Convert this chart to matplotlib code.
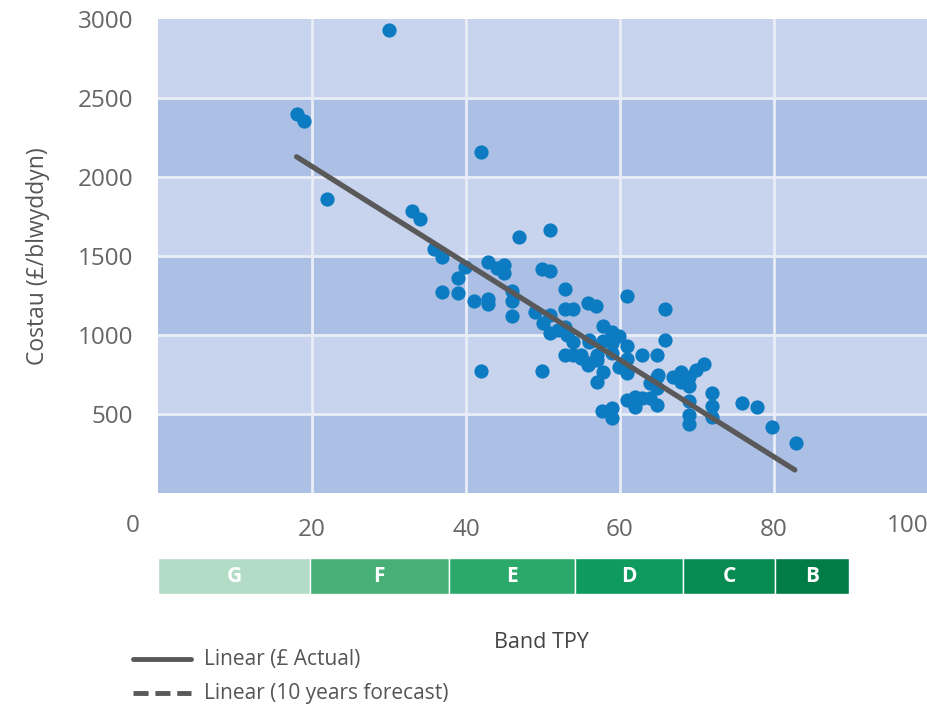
import numpy as np
import matplotlib.pyplot as plt
from matplotlib.lines import Line2D

plt.rcParams['font.family'] = ['Open Sans', 'DejaVu Sans']

# SAP score vs yearly cost
sap = [18.0, 19.0, 22.0, 30.0, 33.0, 34.0, 35.8, 36.9, 36.9, 39.0,
       39.0, 39.9, 41.0, 41.9, 41.9, 42.9, 42.9, 42.9, 44.0, 44.9,
       44.9, 46.0, 46.0, 46.0, 46.9, 48.9, 49.9, 49.9, 50.0, 50.9,
       50.9, 50.9, 50.9, 52.0, 52.9, 52.9, 53.9, 52.9, 53.9, 52.9,
       53.9, 55.0, 55.9, 56.9, 56.0, 56.0, 57.0, 57.0, 57.8, 57.8,
       57.8, 58.9, 58.9, 58.9, 59.9, 59.9, 60.9, 60.9, 60.9, 60.9,
       57.7, 58.9, 58.9, 60.9, 61.9, 61.9, 62.9, 63.9, 64.8, 62.9,
       64.8, 65.8, 65.8, 63.9, 64.8, 64.8, 66.9, 67.9, 67.9, 68.9,
       68.9, 69.9, 70.9, 68.9, 68.9, 68.9, 71.9, 71.9, 71.9, 75.8,
       77.8, 79.8, 82.8, 55.9, 53.1, 65.0, 57.0, 56.0, 55.0, 58.9]
cost = [2400, 2352, 1859, 2930, 1783, 1732, 1542, 1494, 1272, 1359,
        1268, 1428, 1217, 2158, 772, 1464, 1226, 1198, 1422, 1443,
        1394, 1280, 1217, 1122, 1620, 1144, 1416, 772, 1074, 1667,
        1403, 1127, 1011, 1032, 1289, 1167, 1167, 1053, 958, 873,
        873, 873, 1200, 1183, 968, 821, 842, 704, 1057, 962,
        768, 1011, 947, 888, 994, 800, 930, 846, 758, 1247,
        519, 536, 477, 589, 610, 546, 599, 599, 557, 873,
        873, 968, 1167, 694, 736, 662, 732, 768, 704, 736,
        677, 778, 816, 584, 494, 437, 631, 551, 483, 568,
        546, 420, 314, 810, 1000, 747, 873, 958, 852, 1021]

trend_x = [18.0, 82.7]
trend_y = [2128, 146]

bands = ['G', 'F', 'E', 'D', 'C', 'B']
band_edges = [0, 19.7, 37.8, 54.2, 68.2, 80.1, 89.7]
band_colors = ['#b3dcc7', '#48b077', '#2aa96b', '#0f9b5e', '#078b51', '#017c47']

yticks = [500, 1000, 1500, 2000, 2500, 3000]
xticks = [20, 40, 60, 80]

fig = plt.figure(figsize=(9.28, 7.06), dpi=100)
ax = fig.add_axes([158 / 928, 1 - 493 / 706, 770 / 928, 474 / 706])

# striped background
for i, lo in enumerate(range(0, 3000, 500)):
    ax.axhspan(lo, lo + 500, color='#abc0e4' if i % 2 == 0 else '#c8d4ed', lw=0, zorder=0)
for v in yticks[:-1]:
    ax.axhline(v, color='#e9edf7', lw=2, zorder=1)
for v in xticks:
    ax.axvline(v, color='#e9edf7', lw=2, zorder=1)

ax.scatter(sap, cost, s=105, color='#0c7bc1', lw=0, zorder=3)
ax.plot(trend_x, trend_y, color='#595959', lw=3.8, solid_capstyle='round', zorder=4)

ax.set_xlim(0, 100)
ax.set_ylim(0, 3000)
ax.set_yticks(yticks)
ax.set_xticks(xticks)
ax.tick_params(length=0, labelsize=17.5, labelcolor='#666666', pad=18)
ax.tick_params(axis='x', pad=18)
for s in ax.spines.values():
    s.set_visible(False)
ax.text(-2.4, -130, '0', ha='right', va='top', fontsize=17.5, color='#666666', clip_on=False)
ax.text(100, -130, '100', ha='right', va='top', fontsize=17.5, color='#666666', clip_on=False)
ax.set_ylabel('Costau (£/blwyddyn)', fontsize=16.5, color='#555555', labelpad=20)

# EPC band strip
bax = fig.add_axes([158 / 928, 1 - 594 / 706, 770 / 928, 36 / 706])
bax.set_xlim(0, 100)
bax.set_ylim(0, 1)
for lab, x0, x1, c in zip(bands, band_edges[:-1], band_edges[1:], band_colors):
    bax.barh(0.5, x1 - x0, left=x0, height=1, color=c, edgecolor='white', lw=1)
    bax.text((x0 + x1) / 2, 0.5, lab, ha='center', va='center', color='white',
             fontsize=15, fontweight='bold')
bax.axis('off')

fig.text(541 / 928, 1 - 643 / 706, 'Band TPY', ha='center', va='center', fontsize=15.5,
         color='#444444')

# legend
fig.add_artist(Line2D([133 / 928, 191 / 928], [1 - 659 / 706] * 2, color='#595959', lw=3.5,
                      solid_capstyle='round'))
fig.add_artist(Line2D([133 / 928, 191 / 928], [1 - 693 / 706] * 2, color='#595959', lw=3.5,
                      ls=(0, (3.1, 1.4))))
fig.text(204 / 928, 1 - 659 / 706, 'Linear (£ Actual)', va='center', fontsize=15, color='#555555')
fig.text(204 / 928, 1 - 693 / 706, 'Linear (10 years forecast)', va='center', fontsize=15,
         color='#555555')

fig.savefig('out.png', dpi=100)
